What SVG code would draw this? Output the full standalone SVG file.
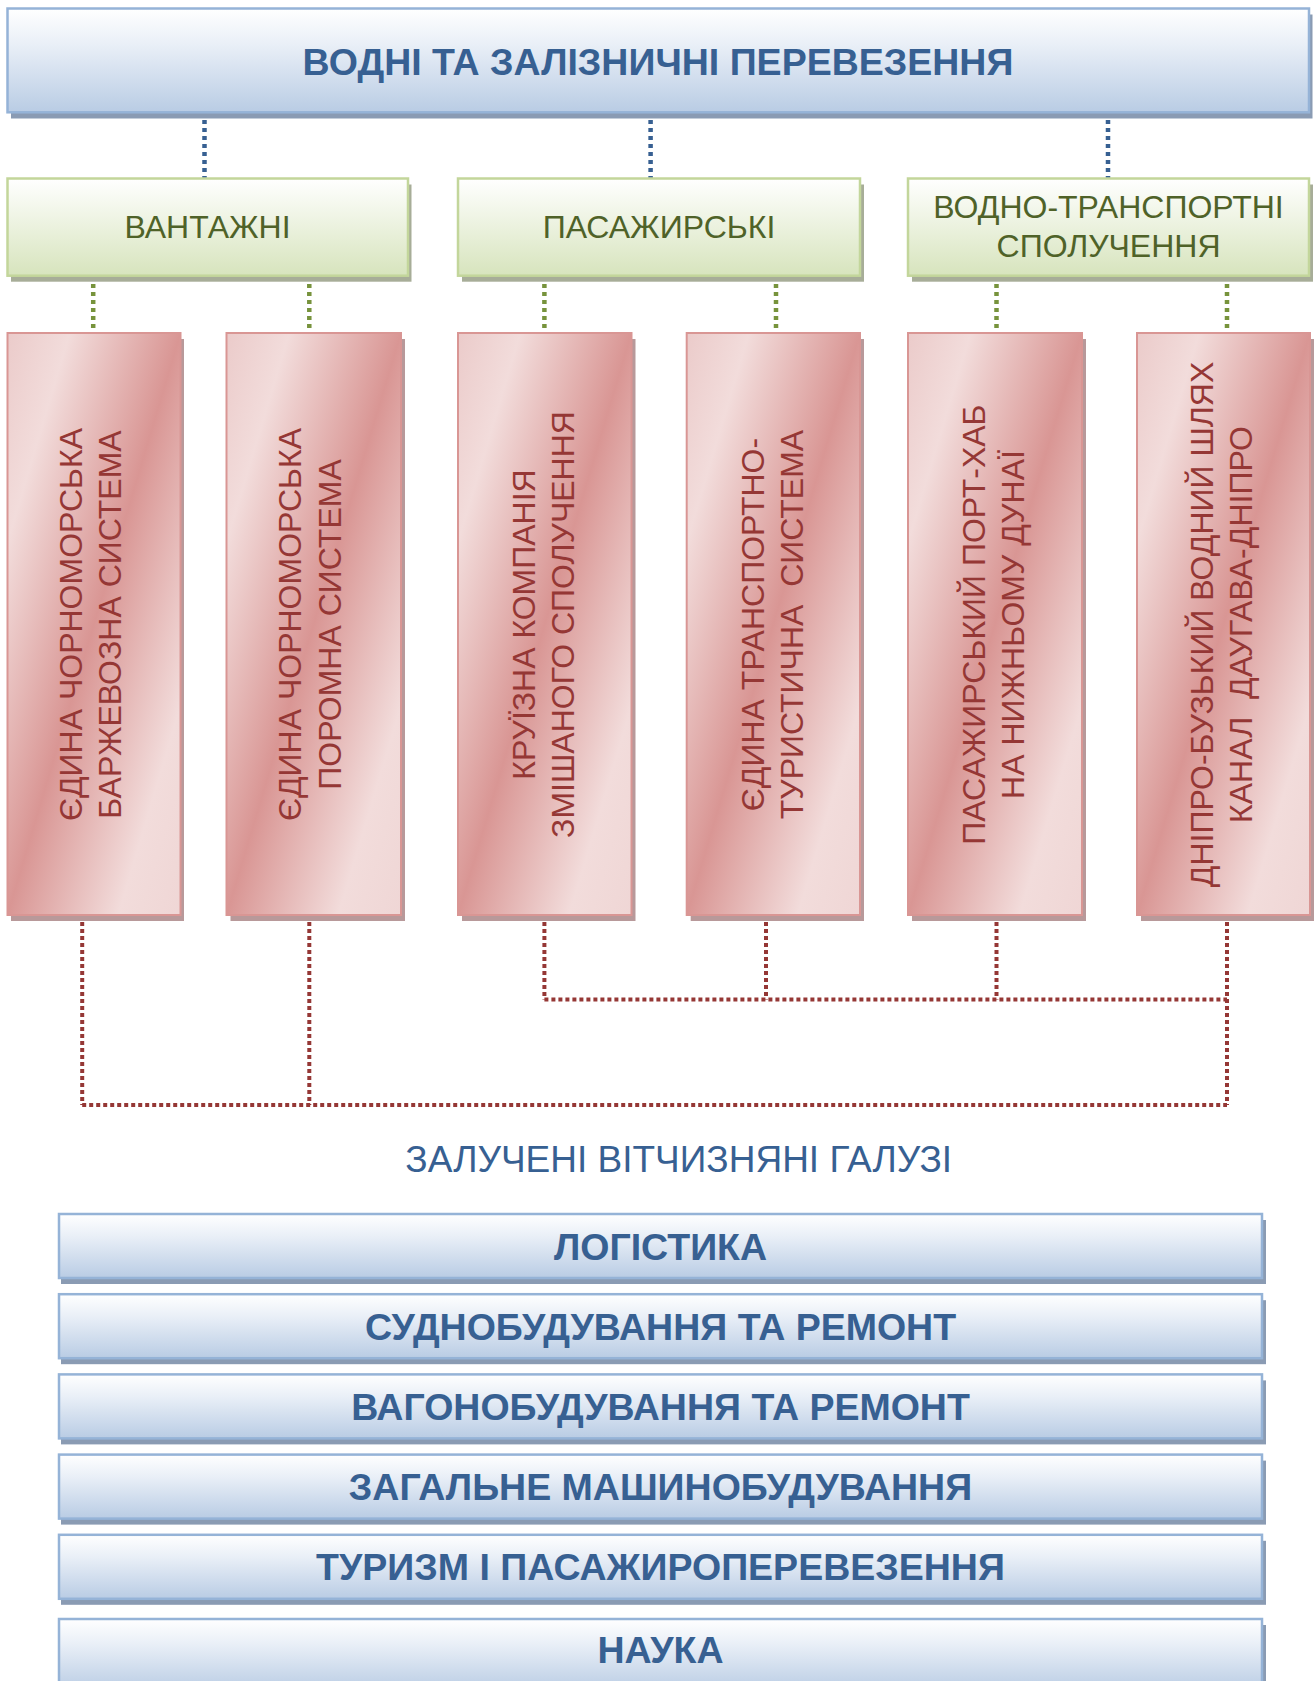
<svg xmlns="http://www.w3.org/2000/svg" width="1315" height="1681" viewBox="0 0 1315 1681">
<defs>
<linearGradient id="gBlue" x1="0" y1="0" x2="0" y2="1">
<stop offset="0" stop-color="#ffffff"/><stop offset="0.35" stop-color="#e9eff7"/><stop offset="1" stop-color="#b9cce4"/>
</linearGradient>
<linearGradient id="gGreen" x1="0" y1="0" x2="0" y2="1">
<stop offset="0" stop-color="#ffffff"/><stop offset="1" stop-color="#d7e4bd"/>
</linearGradient>
<linearGradient id="gPink" x1="0" y1="0" x2="1" y2="1">
<stop offset="0" stop-color="#ebcbca"/><stop offset="0.18" stop-color="#f2dcdb"/><stop offset="0.5" stop-color="#d99694"/><stop offset="0.82" stop-color="#f2dcdb"/><stop offset="1" stop-color="#efd6d5"/>
</linearGradient>
<style>
.sb{fill:#8a9bb3}
.sg{fill:#a7ad98}
.sp{fill:#b8999a}
.bb{fill:url(#gBlue);stroke:#95b3d7;stroke-width:2.5}
.bg{fill:url(#gGreen);stroke:#c3d69b;stroke-width:2.5}
.bp{fill:url(#gPink);stroke:#d99694;stroke-width:2}
.tt{font-family:"Liberation Sans",Arial,sans-serif;font-weight:bold;fill:#376092;text-anchor:middle}
.tg{font-family:"Liberation Sans",Arial,sans-serif;font-size:32px;fill:#4f6228;text-anchor:middle}
.tp{font-family:"Liberation Sans",Arial,sans-serif;font-size:32px;fill:#953735;text-anchor:middle;white-space:pre}
.tl{font-family:"Liberation Sans",Arial,sans-serif;font-size:37px;fill:#376092;text-anchor:middle}
.cb{stroke:#376092;stroke-width:4.5;stroke-dasharray:4 4;fill:none}
.cg{stroke:#77933c;stroke-width:4.5;stroke-dasharray:4 4;fill:none}
.cr{stroke:#953735;stroke-width:4;stroke-dasharray:4 3;fill:none}
</style>
</defs>
<g id="connectors">
<path class="cb" d="M204.5 112V178.5M650.6 112V178.5M1108 112V178.5"/>
<path class="cg" d="M93.2 276V333M309.3 276V333M544.4 276V333M776 276V333M996.5 276V333M1227 276V333"/>
<path class="cr" d="M82.2 915V1105M309.3 915V1105M544.4 915V999.5M766 915V999.5M996.5 915V999.5M1227 915V1105M544.4 999.5H1227M82.2 1105H1227"/>
</g>
<g id="top">
<rect class="sb" x="11" y="14.5" width="1301.5" height="104"/>
<rect class="bb" x="7.5" y="8.5" width="1301.5" height="103.8"/>
<text class="tt" x="658" y="74.5" font-size="37.5">ВОДНІ ТА ЗАЛІЗНИЧНІ ПЕРЕВЕЗЕННЯ</text>
</g>
<g id="g1">
<rect class="sg" x="11" y="184.5" width="400.5" height="97.2"/>
<rect class="bg" x="7.5" y="178.5" width="400.5" height="97.2"/>
<text class="tg" x="207.5" y="238">ВАНТАЖНІ</text>
</g>
<g id="g2">
<rect class="sg" x="462" y="184.5" width="402" height="97.2"/>
<rect class="bg" x="458" y="178.5" width="402" height="97.2"/>
<text class="tg" x="659" y="238">ПАСАЖИРСЬКІ</text>
</g>
<g id="g3">
<rect class="sg" x="912" y="184.5" width="401" height="97.2"/>
<rect class="bg" x="908" y="178.5" width="401" height="97.2"/>
<text class="tg"><tspan x="1108.5" y="217.5">ВОДНО-ТРАНСПОРТНІ</tspan><tspan x="1108.5" y="256.5">СПОЛУЧЕННЯ</tspan></text>
</g>
<g id="p1">
<rect class="sp" x="11" y="339" width="173" height="582"/>
<rect class="bp" x="7.5" y="333" width="173" height="582"/>
<text class="tp" transform="translate(81.7 624.5) rotate(-90)"><tspan x="0" y="0">ЄДИНА ЧОРНОМОРСЬКА</tspan><tspan x="0" y="39.5">БАРЖЕВОЗНА СИСТЕМА</tspan></text>
</g>
<g id="p2">
<rect class="sp" x="230.5" y="339" width="174.5" height="582"/>
<rect class="bp" x="226.5" y="333" width="174.5" height="582"/>
<text class="tp" transform="translate(301.3 624.5) rotate(-90)"><tspan x="0" y="0">ЄДИНА ЧОРНОМОРСЬКА</tspan><tspan x="0" y="39.5">ПОРОМНА СИСТЕМА</tspan></text>
</g>
<g id="p3">
<rect class="sp" x="462" y="339" width="173.5" height="582"/>
<rect class="bp" x="458" y="333" width="173.5" height="582"/>
<text class="tp" transform="translate(534.8 624.5) rotate(-90)"><tspan x="0" y="0">КРУЇЗНА КОМПАНІЯ</tspan><tspan x="0" y="39.5">ЗМІШАНОГО СПОЛУЧЕННЯ</tspan></text>
</g>
<g id="p4">
<rect class="sp" x="690.7" y="339" width="173.3" height="582"/>
<rect class="bp" x="686.7" y="333" width="173.3" height="582"/>
<text class="tp" transform="translate(764 624.5) rotate(-90)"><tspan x="0" y="0">ЄДИНА ТРАНСПОРТНО-</tspan><tspan x="0" y="38.5">ТУРИСТИЧНА  СИСТЕМА</tspan></text>
</g>
<g id="p5">
<rect class="sp" x="912" y="339" width="174" height="582"/>
<rect class="bp" x="908" y="333" width="174" height="582"/>
<text class="tp" transform="translate(984.5 624.5) rotate(-90)"><tspan x="0" y="0">ПАСАЖИРСЬКИЙ ПОРТ-ХАБ</tspan><tspan x="0" y="39.5">НА НИЖНЬОМУ ДУНАЇ</tspan></text>
</g>
<g id="p6">
<rect class="sp" x="1141" y="339" width="173" height="582"/>
<rect class="bp" x="1137" y="333" width="173" height="582"/>
<text class="tp" transform="translate(1213 624.5) rotate(-90)"><tspan x="0" y="0">ДНІПРО-БУЗЬКИЙ ВОДНИЙ ШЛЯХ</tspan><tspan x="0" y="39">КАНАЛ  ДАУГАВА-ДНІПРО</tspan></text>
</g>
<g id="label">
<text class="tl" x="678.7" y="1172">ЗАЛУЧЕНІ ВІТЧИЗНЯНІ ГАЛУЗІ</text>
</g>
<g id="b1">
<rect class="sb" x="61" y="1220" width="1205" height="64"/>
<rect class="bb" x="59" y="1214" width="1203" height="64"/>
<text class="tt" x="660.5" y="1259.5" font-size="37.5">ЛОГІСТИКА</text>
</g>
<g id="b2">
<rect class="sb" x="61" y="1300.2" width="1205" height="64"/>
<rect class="bb" x="59" y="1294.2" width="1203" height="64"/>
<text class="tt" x="660.5" y="1339.7" font-size="37.5">СУДНОБУДУВАННЯ ТА РЕМОНТ</text>
</g>
<g id="b3">
<rect class="sb" x="61" y="1380.4" width="1205" height="64"/>
<rect class="bb" x="59" y="1374.4" width="1203" height="64"/>
<text class="tt" x="660.5" y="1419.9" font-size="37.5">ВАГОНОБУДУВАННЯ ТА РЕМОНТ</text>
</g>
<g id="b4">
<rect class="sb" x="61" y="1460.6" width="1205" height="64"/>
<rect class="bb" x="59" y="1454.6" width="1203" height="64"/>
<text class="tt" x="660.5" y="1500.1" font-size="37.5">ЗАГАЛЬНЕ МАШИНОБУДУВАННЯ</text>
</g>
<g id="b5">
<rect class="sb" x="61" y="1540.8" width="1205" height="64"/>
<rect class="bb" x="59" y="1534.8" width="1203" height="64"/>
<text class="tt" x="660.5" y="1580.3" font-size="37.5">ТУРИЗМ І ПАСАЖИРОПЕРЕВЕЗЕННЯ</text>
</g>
<g id="b6">
<rect class="sb" x="61" y="1625" width="1205" height="70"/>
<rect class="bb" x="59" y="1619" width="1203" height="72"/>
<text class="tt" x="660.5" y="1663" font-size="37.5">НАУКА</text>
</g>
</svg>
